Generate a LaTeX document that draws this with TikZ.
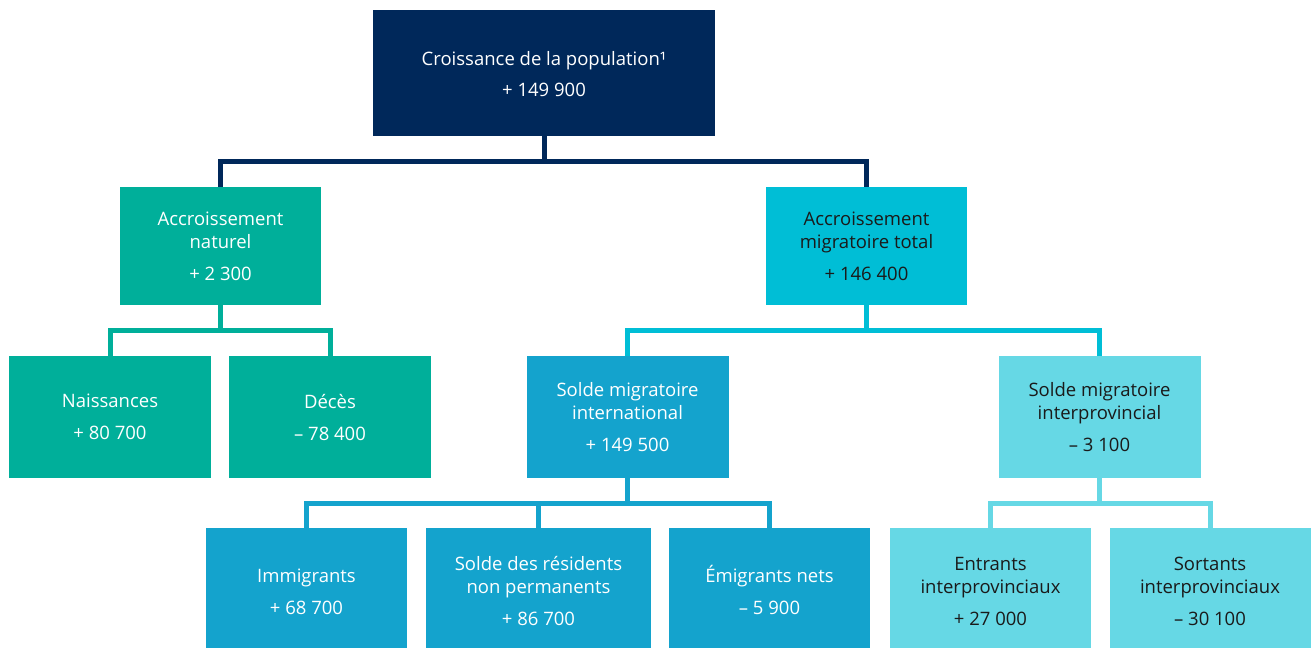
\documentclass[tikz,border=0pt]{standalone}
\usepackage{fontspec}
\setmainfont{Open Sans}
\usetikzlibrary{calc}
\definecolor{navy}{HTML}{00285A}
\definecolor{green}{HTML}{00AF9A}
\definecolor{cyan}{HTML}{00BED6}
\definecolor{blue}{HTML}{14A3CD}
\definecolor{lcyan}{HTML}{66D8E5}
\definecolor{txtdark}{HTML}{1A1A1A}
\newcommand\dnstrut[1]{\rule{0pt}{#1}}
\begin{document}
\begin{tikzpicture}[x=1pt,y=-1pt,
  box/.style={rectangle, inner sep=0pt, align=center, minimum width=201pt,
    font=\fontsize{18.5}{23}\selectfont},
  conn/.style={draw=#1, line width=5pt, line join=miter, line cap=butt}]
\useasboundingbox (0,0) rectangle (1311,649);
% nodes
\node[box, fill=navy, text=white, minimum width=342pt, minimum height=126pt] (top) at (544,73)
  {\dnstrut{17pt}Croissance de la population¹\\[8pt]+ 149 900};
\node[box, fill=green, text=white, minimum height=118pt] (nat) at (220.5,246)
  {\dnstrut{15pt}Accroissement\\naturel\\[9pt]+ 2 300};
\node[box, fill=cyan, text=txtdark, minimum height=118pt] (mig) at (866.5,246)
  {\dnstrut{15pt}Accroissement\\migratoire total\\[9pt]+ 146 400};
\node[box, fill=green, text=white, minimum width=202pt, minimum height=122pt] (nais) at (110,417)
  {Naissances\\[9pt]+ 80 700};
\node[box, fill=green, text=white, minimum width=202pt, minimum height=122pt] (dec) at (330,417)
  {Décès\\[9pt]– 78 400};
\node[box, fill=blue, text=white, minimum width=202pt, minimum height=122pt] (intl) at (627.5,417)
  {Solde migratoire\\international\\[9pt]+ 149 500};
\node[box, fill=lcyan, text=txtdark, minimum width=202pt, minimum height=122pt] (interp) at (1099.5,417)
  {Solde migratoire\\interprovincial\\[9pt]– 3 100};
\node[box, fill=blue, text=white, minimum height=120pt] (immig) at (306.5,588)
  {\dnstrut{21pt}Immigrants\\[9pt]+ 68 700};
\node[box, fill=blue, text=white, minimum width=225pt, minimum height=120pt] (npr) at (538.5,588)
  {\dnstrut{21pt}Solde des résidents\\non permanents\\[9pt]+ 86 700};
\node[box, fill=blue, text=white, minimum height=120pt] (emig) at (769.5,588)
  {\dnstrut{21pt}Émigrants nets\\[9pt]– 5 900};
\node[box, fill=lcyan, text=txtdark, minimum height=120pt] (entr) at (990.5,588)
  {\dnstrut{21pt}Entrants\\interprovinciaux\\[9pt]+ 27 000};
\node[box, fill=lcyan, text=txtdark, minimum height=120pt] (sort) at (1210,588)
  {\dnstrut{21pt}Sortants\\interprovinciaux\\[9pt]– 30 100};
% bus coordinates
\coordinate (b1) at ($(top.south)!0.5!(top.south |- nat.north)$);
\coordinate (b2) at ($(nat.south)!0.5!(nat.south |- nais.north)$);
\coordinate (b3) at ($(mig.south)!0.5!(mig.south |- intl.north)$);
\coordinate (b4) at ($(intl.south)!0.5!(intl.south |- immig.north)$);
\coordinate (b5) at ($(interp.south)!0.5!(interp.south |- entr.north)$);
% connectors
\draw[conn=navy] (top.south) -- (b1) -| (nat.north);
\draw[conn=navy] (b1) -| (mig.north);
\draw[conn=green] (nat.south) -- (b2) -| (nais.north);
\draw[conn=green] (b2) -| (dec.north);
\draw[conn=cyan] (mig.south) -- (b3) -| (intl.north);
\draw[conn=cyan] (b3) -| (interp.north);
\draw[conn=blue] (intl.south) -- (b4) -| (immig.north);
\draw[conn=blue] (b4) -| (emig.north);
\draw[conn=blue] (b4 -| npr.north) -- (npr.north);
\draw[conn=lcyan] (interp.south) -- (b5) -| (entr.north);
\draw[conn=lcyan] (b5) -| (sort.north);
\end{tikzpicture}
\end{document}
